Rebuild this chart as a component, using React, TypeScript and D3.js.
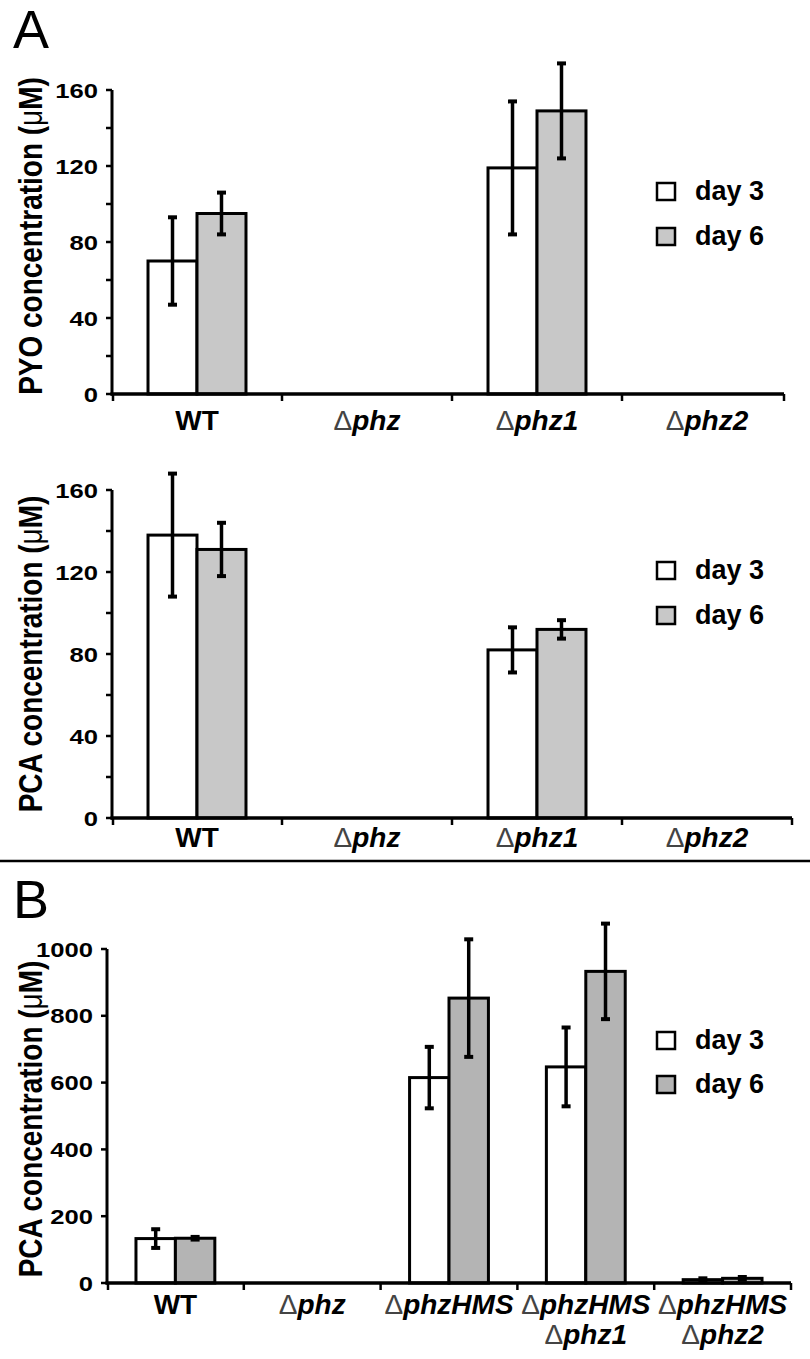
import React from "react";
import * as d3 from "d3";

// ---------- data ----------
const seriesNames = ["day 3", "day 6"];

const categoriesA = ["WT", "Δphz", "Δphz1", "Δphz2"];
const pyoDay3 = [70, 0, 119, 0];
const pyoDay3Err = [23, 0, 35, 0];
const pyoDay6 = [95, 0, 149, 0];
const pyoDay6Err = [11, 0, 25, 0];

const pcaADay3 = [138, 0, 82, 0];
const pcaADay3Err = [30, 0, 11, 0];
const pcaADay6 = [131, 0, 92, 0];
const pcaADay6Err = [13, 0, 4.5, 0];

const categoriesB = ["WT", "Δphz", "ΔphzHMS", "ΔphzHMS Δphz1", "ΔphzHMS Δphz2"];
const pcaBDay3 = [133, 0, 615, 647, 10];
const pcaBDay3Err = [28, 0, 92, 118, 4];
const pcaBDay6 = [134, 0, 853, 933, 14];
const pcaBDay6Err = [4, 0, 176, 143, 4];

const ticksA = [0, 40, 80, 120, 160];
const minorTicksA = [20, 60, 100, 140];
const ticksB = [0, 200, 400, 600, 800, 1000];

const FONT = "'Liberation Sans', Arial, Helvetica, sans-serif";

type PanelProps = {
  cats: string[];
  v3: number[];
  e3: number[];
  v6: number[];
  e6: number[];
  x0: number;
  x1: number;
  axisEnd: number;
  yTopPx: number;
  yBotPx: number;
  yMax: number;
  ticks: number[];
  minor: number[];
  fill6: string;
  yLabel: string;
  yLabelCenter: number;
  catBaseline: number;
  legendTop: number;
  legendGap: number;
};

function CatLabel({ text, x, y }: { text: string; x: number; y: number }) {
  const lines = text.split(" ");
  return (
    <text x={x} y={y} textAnchor="middle" fontFamily={FONT} fontSize={28} fontWeight="bold">
      {lines.map((ln, i) => {
        const hasDelta = ln.startsWith("Δ");
        return (
          <tspan key={i} x={x} dy={i === 0 ? 0 : 30}>
            {hasDelta ? (
              <>
                <tspan fontWeight="normal" fill="#444">Δ</tspan>
                <tspan fontStyle="italic">{ln.slice(1)}</tspan>
              </>
            ) : (
              ln
            )}
          </tspan>
        );
      })}
    </text>
  );
}

function Panel(p: PanelProps) {
  const x = d3.scaleBand<string>().domain(p.cats).range([p.x0, p.x1]).paddingInner(0).paddingOuter(0);
  const inner = d3.scaleBand<string>().domain(seriesNames).range([0, x.bandwidth()]).paddingInner(0).paddingOuter(0.735);
  const y = d3.scaleLinear().domain([0, p.yMax]).range([p.yBotPx, p.yTopPx]);
  const fills = ["#ffffff", p.fill6];
  const vals = [p.v3, p.v6];
  const errs = [p.e3, p.e6];
  const boundaries = [...p.cats.map((c) => x(c) as number), p.axisEnd];

  return (
    <g>
      {/* bars */}
      {p.cats.map((c, ci) =>
        seriesNames.map((s, si) => {
          const v = vals[si][ci];
          if (!(v > 0)) return null;
          const bx = (x(c) as number) + (inner(s) as number);
          const bw = inner.bandwidth();
          return (
            <rect key={c + s} x={bx} y={y(v)} width={bw} height={y(0) - y(v)} fill={fills[si]} stroke="#000" strokeWidth={3} />
          );
        })
      )}
      {/* error bars */}
      {p.cats.map((c, ci) =>
        seriesNames.map((s, si) => {
          const v = vals[si][ci];
          const e = errs[si][ci];
          if (!(v > 0) || !(e > 0)) return null;
          const cx = (x(c) as number) + (inner(s) as number) + inner.bandwidth() / 2;
          return (
            <g key={"e" + c + s} stroke="#000" strokeWidth={3.5}>
              <line x1={cx} x2={cx} y1={y(v + e)} y2={y(v - e)} />
              <line x1={cx - 4.5} x2={cx + 4.5} y1={y(v + e)} y2={y(v + e)} strokeWidth={4} />
              <line x1={cx - 4.5} x2={cx + 4.5} y1={y(v - e)} y2={y(v - e)} strokeWidth={4} />
            </g>
          );
        })
      )}
      {/* y axis */}
      <line x1={p.x0} x2={p.x0} y1={y(p.yMax)} y2={y(0) + 1.5} stroke="#000" strokeWidth={3} />
      {p.ticks.map((t) => (
        <g key={"t" + t}>
          <line x1={p.x0 - 6} x2={p.x0} y1={y(t)} y2={y(t)} stroke="#000" strokeWidth={2.5} />
          <text
            transform={`translate(${p.x0 - 14},${y(t)}) scale(1.22,1)`}
            textAnchor="end"
            dy="0.36em"
            fontFamily={FONT}
            fontSize={21}
            fontWeight="bold"
          >
            {t}
          </text>
        </g>
      ))}
      {p.minor.map((t) => (
        <line key={"m" + t} x1={p.x0 - 6} x2={p.x0} y1={y(t)} y2={y(t)} stroke="#000" strokeWidth={2.5} />
      ))}
      {/* x axis */}
      <line x1={p.x0 - 1.5} x2={p.axisEnd} y1={y(0)} y2={y(0)} stroke="#000" strokeWidth={3.5} />
      {boundaries.map((bx, i) => (
        <line key={"b" + i} x1={bx + (i === 0 ? 1 : 0)} x2={bx + (i === 0 ? 1 : 0)} y1={y(0)} y2={y(0) + 7} stroke="#000" strokeWidth={2.5} />
      ))}
      {/* category labels */}
      {p.cats.map((c) => (
        <CatLabel key={"c" + c} text={c} x={(x(c) as number) + x.bandwidth() / 2} y={p.catBaseline} />
      ))}
      {/* y label */}
      <text
        transform={`translate(42,${p.yLabelCenter}) scale(1.2,1) rotate(-90)`}
        textAnchor="middle"
        fontFamily={FONT}
        fontSize={28}
        fontWeight="bold"
      >
        {p.yLabel}
        <tspan fontWeight="normal">μ</tspan>
        M)
      </text>
      {/* legend */}
      {seriesNames.map((s, si) => (
        <g key={"l" + s}>
          <rect x={657} y={p.legendTop + si * p.legendGap} width={18} height={17} fill={fills[si]} stroke="#000" strokeWidth={2.5} />
          <text x={695} y={p.legendTop + si * p.legendGap + 17} fontFamily={FONT} fontSize={27} fontWeight="bold">
            {s}
          </text>
        </g>
      ))}
    </g>
  );
}

export default function App() {
  return (
    <svg width={810} height={1359} style={{ position: "absolute", left: 0, top: 0, background: "#fff" }}>
      <rect x={0} y={0} width={810} height={1359} fill="#fff" />
      <text x={13} y={48} fontFamily={FONT} fontSize={54}>A</text>
      <Panel
        cats={categoriesA}
        v3={pyoDay3}
        e3={pyoDay3Err}
        v6={pyoDay6}
        e6={pyoDay6Err}
        x0={112}
        x1={792}
        axisEnd={784}
        yTopPx={90}
        yBotPx={394}
        yMax={160}
        ticks={ticksA}
        minor={minorTicksA}
        fill6="#c8c8c8"
        yLabel="PYO concentration ("
        yLabelCenter={236}
        catBaseline={430}
        legendTop={183}
        legendGap={45}
      />
      <Panel
        cats={categoriesA}
        v3={pcaADay3}
        e3={pcaADay3Err}
        v6={pcaADay6}
        e6={pcaADay6Err}
        x0={112}
        x1={792}
        axisEnd={792}
        yTopPx={490}
        yBotPx={818}
        yMax={160}
        ticks={ticksA}
        minor={minorTicksA}
        fill6="#c8c8c8"
        yLabel="PCA concentration ("
        yLabelCenter={654}
        catBaseline={847}
        legendTop={562}
        legendGap={45}
      />
      <line x1={0} x2={810} y1={861} y2={861} stroke="#000" strokeWidth={2.5} />
      <text x={13} y={918} fontFamily={FONT} fontSize={54}>B</text>
      <Panel
        cats={categoriesB}
        v3={pcaBDay3}
        e3={pcaBDay3Err}
        v6={pcaBDay6}
        e6={pcaBDay6Err}
        x0={107}
        x1={791}
        axisEnd={791}
        yTopPx={949}
        yBotPx={1283}
        yMax={1000}
        ticks={ticksB}
        minor={[]}
        fill6="#b4b4b4"
        yLabel="PCA concentration ("
        yLabelCenter={1119}
        catBaseline={1314}
        legendTop={1032}
        legendGap={44}
      />
    </svg>
  );
}
